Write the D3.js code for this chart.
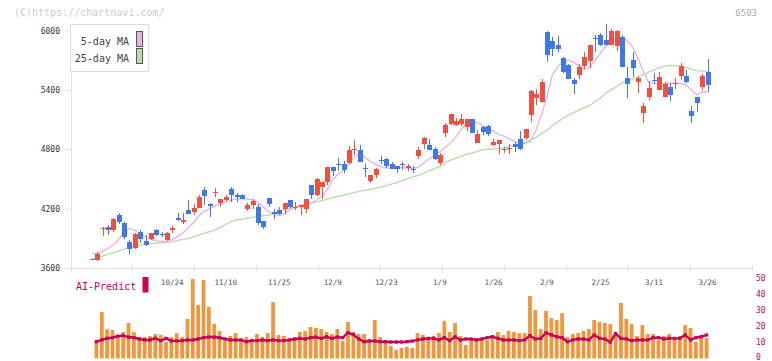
<!DOCTYPE html>
<html><head><meta charset="utf-8">
<script src="https://cdn.jsdelivr.net/npm/d3@7/dist/d3.min.js"></script>
<style>body{margin:0;background:#fff}svg{display:block}</style>
</head><body><svg id="c" width="772" height="361"></svg>
<script>
const open=[3690,3682,4000,4018,3988,4140,4059,3864,3800,3962,3877,3891,3985,3945,3884,3995,4109,4066,4187,4167,4207,4389,4248,4365,4255,4288,4399,4338,4338,4194,4233,4214,4076,4308,4167,4187,4200,4288,4218,4214,4200,4440,4342,4422,4470,4621,4650,4655,4659,4800,4793,4608,4483,4540,4690,4702,4649,4631,4652,4614,4598,4732,4850,4844,4803,4662,4968,5059,5049,5056,5022,5106,4867,5025,5035,4844,4854,4793,4810,4854,4904,4917,5147,5318,5281,5985,5897,5853,5725,5655,5500,5551,5641,5695,5924,5958,5904,5857,5846,5937,5517,5702,5480,5167,5331,5500,5402,5331,5429,5460,5544,5540,5187,5328,5432,5581];
const high=[3690,3763,4015,4036,4106,4154,4066,3884,3955,3985,3935,3958,3998,3968,3962,4025,4154,4154,4288,4248,4339,4422,4261,4409,4300,4338,4422,4356,4349,4255,4295,4244,4080,4310,4200,4214,4258,4290,4268,4236,4300,4442,4513,4472,4623,4623,4712,4685,4833,4894,4840,4652,4542,4614,4732,4715,4669,4634,4672,4652,4631,4826,4924,4904,4826,4760,5063,5157,5116,5157,5110,5110,4995,5035,5048,4901,4896,4826,4854,4877,4985,5005,5399,5409,5510,5992,5937,5944,5728,5660,5517,5658,5780,5856,5958,5972,6066,6018,6005,5958,5634,5786,5540,5271,5490,5571,5581,5480,5470,5520,5672,5601,5237,5330,5560,5712];
const low=[3690,3675,3927,3935,3965,4049,3897,3746,3793,3851,3823,3884,3924,3911,3874,3958,4079,4046,4143,4140,4204,4238,4113,4315,4220,4278,4271,4271,4298,4180,4194,4036,3998,4220,4099,4140,4147,4207,4187,4140,4160,4301,4328,4301,4443,4534,4584,4561,4652,4746,4675,4523,4463,4510,4652,4614,4598,4564,4591,4584,4564,4702,4803,4790,4689,4642,4927,5046,5038,5038,4988,4965,4865,4944,4937,4833,4753,4766,4753,4776,4793,4894,5076,5248,5281,5685,5745,5786,5568,5505,5359,5510,5611,5624,5783,5843,5853,5850,5793,5630,5321,5533,5372,5069,5298,5463,5400,5330,5291,5412,5500,5470,5069,5180,5399,5379];
const close=[3690,3743,4005,3988,4096,4069,3917,3790,3944,3891,3834,3955,3938,3935,3955,4000,4083,4089,4143,4207,4315,4331,4227,4372,4298,4321,4335,4315,4301,4241,4278,4059,4018,4251,4147,4147,4255,4217,4220,4234,4298,4335,4500,4470,4621,4584,4640,4591,4790,4803,4675,4602,4540,4601,4685,4631,4604,4604,4645,4628,4594,4793,4911,4793,4702,4743,5049,5157,5086,5106,5106,4968,4958,4978,4958,4874,4894,4803,4813,4820,4803,5005,5389,5359,5480,5756,5816,5816,5584,5513,5463,5631,5732,5853,5918,5857,5857,5995,5995,5634,5463,5618,5523,5237,5419,5495,5530,5460,5352,5470,5644,5480,5140,5271,5540,5453];
const ma5=[3745,3745,3770,3800,3830,3890,3965,4000,3980,3950,3915,3890,3875,3870,3870,3885,3920,3955,4010,4060,4130,4175,4200,4225,4250,4270,4285,4298,4300,4295,4290,4265,4215,4170,4140,4128,4150,4190,4215,4235,4250,4260,4290,4325,4400,4490,4550,4591,4650,4720,4760,4720,4680,4650,4625,4610,4612,4618,4615,4608,4608,4620,4660,4705,4740,4775,4820,4865,4925,5000,5063,5080,5070,5035,5010,4980,4950,4930,4905,4877,4865,4860,4880,5000,5150,5330,5550,5630,5685,5700,5680,5640,5608,5630,5700,5770,5840,5880,5915,5921,5900,5836,5720,5590,5475,5462,5460,5462,5467,5467,5467,5450,5400,5348,5382,5376];
const ma25=[3690,3705,3720,3738,3756,3773,3790,3803,3816,3829,3841,3846,3851,3855,3859,3864,3878,3890,3900,3912,3932,3952,3968,3985,4010,4040,4070,4085,4093,4103,4112,4120,4128,4135,4155,4178,4192,4205,4220,4230,4243,4256,4268,4282,4296,4311,4325,4337,4349,4362,4376,4385,4395,4405,4418,4432,4447,4465,4485,4505,4520,4537,4560,4585,4605,4625,4665,4690,4710,4730,4750,4762,4778,4795,4800,4803,4806,4815,4828,4840,4854,4870,4895,4920,4960,4990,5040,5075,5110,5145,5170,5195,5220,5240,5285,5315,5370,5400,5432,5470,5490,5508,5530,5555,5580,5600,5625,5641,5645,5645,5640,5625,5610,5595,5590,5588];
const volume=[null,11.6,29.1,18.4,17.8,14.7,16.6,22.2,16.6,13.4,13.4,14.1,15.3,14.7,10.3,13.4,15.9,13.4,24.7,49.7,33.4,49.1,32.2,21.6,17.2,10.9,14.1,15.9,11.6,13.4,10.9,15.3,13.4,15.9,35.3,14.7,14.1,10.9,11.6,16.6,17.2,19.7,19.1,18.4,16.6,15.3,18.4,10.9,22.8,16.6,15.3,15.3,12.2,24.1,13.4,11.6,7.8,5.3,6.6,7.2,6.6,15.9,14.7,12.2,14.1,15.9,23.4,16.6,22.2,14.1,8.4,12.2,10.9,11.6,11.6,14.7,16.6,14.7,17.2,16.6,15.9,15.9,39.1,30.3,18.4,29.7,25.3,24.1,28.4,13.4,15.3,15.9,17.2,18.4,24.1,22.8,22.2,21.6,14.1,34.7,24.7,21.6,14.1,20.9,15.3,15.3,11.6,14.1,15.3,12.8,14.1,20.9,19.1,10.3,14.7,12.8];
const aiPredict=[null,10.5,11.6,12.6,13.0,14.0,14.3,13.4,13.0,12.2,11.6,11.6,12.6,11.2,12.6,11.0,11.0,11.2,11.6,11.6,12.2,13.0,13.4,13.4,13.0,12.2,11.6,11.6,11.6,10.5,11.2,11.2,11.6,11.2,11.6,11.2,11.2,11.6,12.2,12.6,12.2,13.0,13.4,12.6,13.6,12.6,13.4,13.0,16.1,15.0,12.2,10.5,10.9,10.9,10.5,10.5,10.3,10.3,10.3,10.5,10.9,11.6,12.2,12.6,12.6,11.6,13.0,11.2,13.6,11.6,12.2,12.2,11.6,12.2,13.0,13.6,12.6,11.6,11.6,11.6,11.2,11.6,14.3,12.2,12.6,16.1,14.7,13.6,13.0,10.5,11.6,12.2,12.2,11.6,14.7,12.6,12.2,10.3,15.6,12.6,12.2,11.2,11.6,11.6,11.6,13.0,13.0,12.2,12.6,12.6,12.6,14.7,11.6,13.0,13.6,14.7];
const dateLabels=["10/24","11/10","11/25","12/9","12/23","1/9","1/26","2/9","2/25","3/11","3/26"];
const dateIndex=[15,25,35,45,55,65,75,85,95,105,115];
const priceTicks=[3600,4200,4800,5400,6000];
const volTicks=[0,10,20,30,40,50];
const legendLabels=["5-day MA","25-day MA"];

const MONO='"DejaVu Sans Mono","Liberation Mono",monospace';
const RED='#f05040',BLUE='#4078e8',PINK='#e8b0e8',GREEN='#b4dca4',ORANGE='#f0963c',CRIMSON='#c8005a',AXIS='#e0e0e0';
const svg=d3.select('#c');
const N=close.length;
const x=d3.scaleLinear().domain([0,N-1]).range([92,707.5]);
const y=d3.scaleLinear().domain([3600,6000]).range([268,30.5]);
const yv=d3.scaleLinear().domain([0,50]).range([358.5,278.5]);
const xt=d3.scaleLinear().domain([0,11]).range([71,752]);

// header texts
svg.append('text').attr('x',14).attr('y',16).attr('font-family',MONO).attr('font-size',10).attr('fill','#cccccc').text('(C)https://chartnavi.com/');
svg.append('text').attr('x',757).attr('y',16).attr('text-anchor','end').attr('font-family',MONO).attr('font-size',9).attr('fill','#aaaaaa').text('6503');

// left axis
const ga=svg.append('g').attr('transform','translate(71,0)').call(d3.axisLeft(y).tickValues(priceTicks).tickFormat(d3.format('d')).tickSize(6).tickSizeOuter(0).tickPadding(5));
ga.select('.domain').remove();
ga.selectAll('line').attr('stroke',AXIS);
ga.selectAll('text').attr('font-family',MONO).attr('font-size',8).attr('fill','#333');
svg.append('line').attr('x1',71).attr('x2',71).attr('y1',24).attr('y2',268).attr('stroke',AXIS).attr('shape-rendering','crispEdges');
// bottom axis
svg.append('line').attr('x1',71).attr('x2',752).attr('y1',268).attr('y2',268).attr('stroke',AXIS).attr('shape-rendering','crispEdges');
svg.append('g').selectAll('line').data(d3.range(12)).join('line')
  .attr('x1',d=>xt(d)).attr('x2',d=>xt(d)).attr('y1',264.5).attr('y2',271).attr('stroke',AXIS).attr('shape-rendering','crispEdges');
svg.append('g').selectAll('text').data(dateLabels).join('text')
  .attr('x',(d,i)=>x(dateIndex[i])).attr('y',284.5).attr('text-anchor','middle')
  .attr('font-family',MONO).attr('font-size',7.5).attr('fill','#555').text(d=>d);

// MA lines
const line=d3.line().x((d,i)=>x(i)).y(d=>y(d));
svg.append('path').attr('d',line(ma25)).attr('fill','none').attr('stroke',GREEN).attr('stroke-width',1.3);
svg.append('path').attr('d',line(ma5)).attr('fill','none').attr('stroke',PINK).attr('stroke-width',1.3);

// candles
const cg=svg.append('g').attr('shape-rendering','crispEdges');
const idx=d3.range(N);
cg.selectAll('line').data(idx).join('line')
  .attr('x1',i=>Math.round(x(i))+0.5).attr('x2',i=>Math.round(x(i))+0.5)
  .attr('y1',i=>y(high[i])).attr('y2',i=>y(low[i]))
  .attr('stroke',i=>close[i]>=open[i]?RED:BLUE);
cg.selectAll('rect').data(idx).join('rect')
  .attr('x',i=>Math.round(x(i))-2).attr('width',5)
  .attr('y',i=>y(Math.max(open[i],close[i])))
  .attr('height',i=>Math.max(1.2,Math.abs(y(open[i])-y(close[i]))))
  .attr('fill',i=>close[i]>=open[i]?RED:BLUE);

// legend
svg.append('rect').attr('x',70.5).attr('y',24.5).attr('width',78).attr('height',47).attr('fill','#fff').attr('stroke','#dddddd');
const lg=svg.append('g');
lg.selectAll('text').data(legendLabels).join('text').attr('x',129).attr('y',(d,i)=>44.5+i*17).attr('text-anchor','end')
  .attr('font-family',MONO).attr('font-size',10).attr('fill','#444').text(d=>d);
lg.selectAll('rect').data([PINK,GREEN]).join('rect').attr('x',136.5).attr('y',(d,i)=>31.5+i*17).attr('width',6).attr('height',15)
  .attr('fill',d=>d).attr('stroke','#555');

// volume
svg.append('g').selectAll('rect').data(idx.filter(i=>volume[i]!=null)).join('rect')
  .attr('x',i=>x(i)-2.8).attr('width',3.8).attr('y',i=>yv(volume[i])).attr('height',i=>yv(0)-yv(volume[i])).attr('fill',ORANGE);
const aiIdx=idx.filter(i=>aiPredict[i]!=null);
svg.append('path').attr('d',d3.line().x(i=>x(i)-0.9).y(i=>yv(aiPredict[i]))(aiIdx)).attr('fill','none').attr('stroke',CRIMSON).attr('stroke-width',2.4);
svg.append('g').selectAll('rect').data(aiIdx).join('rect').attr('x',i=>x(i)-2.5).attr('y',i=>yv(aiPredict[i])-1.6).attr('width',3.2).attr('height',3.2).attr('fill',CRIMSON);
svg.append('g').selectAll('text').data(volTicks).join('text').attr('x',756).attr('y',d=>Math.min(yv(d)+2.5,359.5))
  .attr('font-family',MONO).attr('font-size',8).attr('fill',CRIMSON).text(d=>d);
svg.append('text').attr('x',76).attr('y',290).attr('font-family',MONO).attr('font-size',10).attr('fill',CRIMSON).text('AI-Predict');
svg.append('rect').attr('x',142.5).attr('y',277).attr('width',6).attr('height',15.5).attr('fill',CRIMSON);
</script></body></html>
